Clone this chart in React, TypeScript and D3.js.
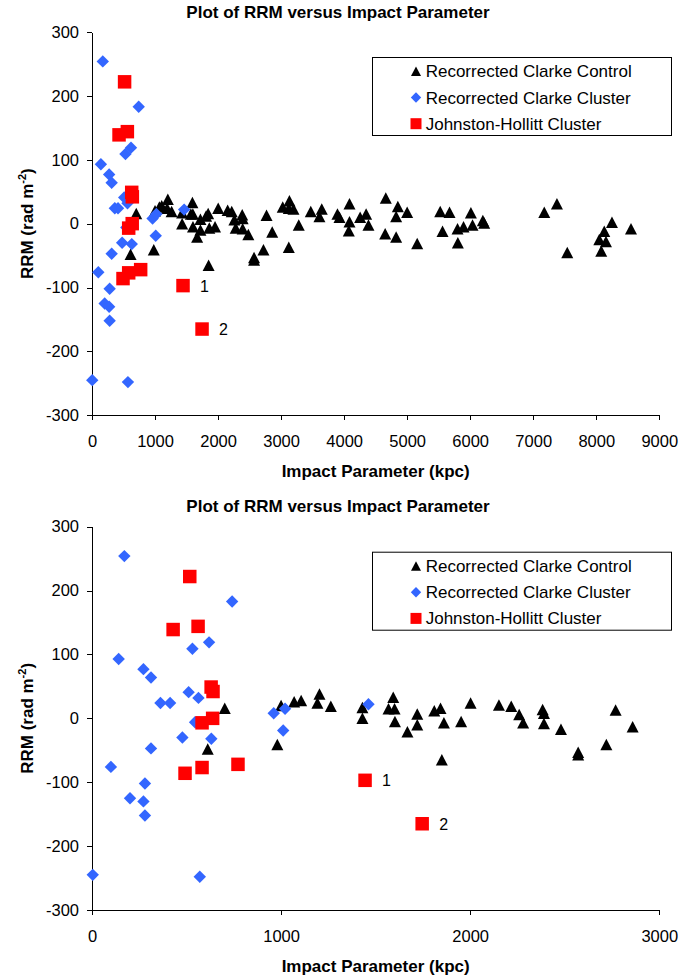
import React, { useEffect, useRef } from 'react';
import * as d3 from 'd3';

// Recorrected Clarke Control (impact parameter kpc, RRM rad m^-2)
const controlX = [702, 612, 980, 1000, 1069, 1106, 1203, 1192, 1263, 1430, 1430, 1593, 1568, 1600, 1602,
    1668, 1720, 1720, 1810, 1843, 1861, 1850, 1952, 2002, 2152, 2217, 2259, 2280, 2383, 2390, 2390, 2480,
    2571, 2571, 2720, 2769, 2859, 3026, 3132, 3122, 3196, 3280, 3122, 3471, 3645, 3608, 3894, 3926, 4085,
    4085, 4074, 4254, 4349, 4386, 4661, 4651, 4825, 4852, 4825, 5000, 5159, 5524, 5672, 5561, 5799, 5894,
    5804, 6011, 6037, 6201, 6222, 7175, 7376, 7540, 8249, 8551, 8127, 8048, 8154, 8079];
const controlY = [16, -48, -41, 20, 26, 28, 38, 24, 19, 17, 0, 33, 15, 15, -5,
    -21, 7, -10, 12, 16, -7, -65, -5, 24, 21, 19, 6, -7, 14, 8, -8, -17,
    -53, -57, -41, 13, -13, 26, 36, 24, 23, -2, -37, 19, 23, 11, 15, 10, 31,
    3, -11, 10, 15, -2, 40, -16, -21, 27, 11, 18, -31, 19, 18, -12, -8, -5,
    -30, 17, -2, 5, 1, 18, 31, -45, 2, -8, -12, -25, -28, -43];

// Recorrected Clarke Cluster
const clusterX = [171, 741, 619, 531, 141, 272, 312, 511, 563, 362, 413, 961, 1021, 545, 1011, 478, 631,
    312, 100, 280, 201, 272, 280, 4, 570, 1462];
const clusterY = [254, 183, 119, 109, 93, 77, 64, 41, 32, 24, 24, 8, 15, -6, -19, -30, -32,
    -47, -76, -102, -125, -130, -152, -245, -248, 22];

// Johnston-Hollitt Cluster
const jhX = [517, 429, 561, 630, 640, 638, 582, 492, 582, 772, 1444, 1746];
const jhY = [222, 139, 144, 49, 42, 0, -7, -86, -77, -72, -97, -165];
const jhLabels = ['', '', '', '', '', '', '', '', '', '', '1', '2'];

const seriesNames = ['Recorrected Clarke Control', 'Recorrected Clarke Cluster', 'Johnston-Hollitt Cluster'];
const yTicks = [-300, -200, -100, 0, 100, 200, 300];
const xTicksWide = [0, 1000, 2000, 3000, 4000, 5000, 6000, 7000, 8000, 9000];
const xTicksNarrow = [0, 1000, 2000, 3000];

const FONT = '"Liberation Sans", Arial, sans-serif';

// marker shapes, sized in px
const triangle = (w, h) => ({
    draw(ctx) {
        ctx.moveTo(0, -h / 2);
        ctx.lineTo(w / 2, h / 2);
        ctx.lineTo(-w / 2, h / 2);
        ctx.closePath();
    }
});
const diamond = (r) => ({
    draw(ctx) {
        ctx.moveTo(0, -r);
        ctx.lineTo(r, 0);
        ctx.lineTo(0, r);
        ctx.lineTo(-r, 0);
        ctx.closePath();
    }
});
const square = (s) => ({
    draw(ctx) {
        ctx.rect(-s / 2, -s / 2, s, s);
    }
});

function drawPanel(root, oy, xMax, xTicks) {
    const g = root.append('g').attr('transform', `translate(0, ${oy})`);

    const x = d3.scaleLinear().domain([0, xMax]).range([92, 659.3]);
    const y = d3.scaleLinear().domain([-300, 300]).range([415.3, 32]);

    g.append('text')
        .attr('x', 338)
        .attr('y', 17.5)
        .attr('text-anchor', 'middle')
        .attr('font-weight', 'bold')
        .attr('font-size', 17)
        .text('Plot of RRM versus Impact Parameter');

    // axes
    const yAxis = g.append('g')
        .attr('transform', 'translate(92,0)')
        .call(d3.axisLeft(y).tickValues(yTicks).tickSize(5).tickSizeOuter(0).tickPadding(8).tickFormat(d => String(d)));
    const xAxis = g.append('g')
        .attr('transform', `translate(0,${y(-300)})`)
        .call(d3.axisBottom(x).tickValues(xTicks).tickSize(5).tickSizeOuter(0).tickPadding(15).tickFormat(d => String(d)));

    [yAxis, xAxis].forEach(a => {
        a.attr('font-family', FONT).attr('font-size', 16.5)
        a.selectAll('path, line').attr('stroke', '#000').attr('shape-rendering', 'crispEdges')
        a.selectAll('text').attr('fill', '#000')
    });

    g.append('text')
        .attr('x', (x.range()[0] + x.range()[1]) / 2)
        .attr('y', 477)
        .attr('text-anchor', 'middle')
        .attr('font-weight', 'bold')
        .attr('font-size', 17)
        .text('Impact Parameter (kpc)');

    const yTitle = g.append('text')
        .attr('transform', `translate(33,${(y(300) + y(-300)) / 2}) rotate(-90)`)
        .attr('text-anchor', 'middle')
        .attr('font-weight', 'bold')
        .attr('font-size', 17);
    yTitle.append('tspan').text('RRM (rad m');
    yTitle.append('tspan').attr('dy', -7).attr('font-size', 11).text('-2');
    yTitle.append('tspan').attr('dy', 7).text(')');

    // points
    const inRange = (xs, ys) => xs.map((v, i) => ({ x: v, y: ys[i], i })).filter(d => d.x <= xMax);

    g.append('g')
        .selectAll('path')
        .data(inRange(controlX, controlY))
        .join('path')
            .attr('d', d3.symbol().type(triangle(12, 11.5)))
            .attr('transform', d => `translate(${x(d.x)},${y(d.y)})`)
            .attr('fill', '#000');

    g.append('g')
        .selectAll('path')
        .data(inRange(clusterX, clusterY))
        .join('path')
            .attr('d', d3.symbol().type(diamond(6.2)))
            .attr('transform', d => `translate(${x(d.x)},${y(d.y)})`)
            .attr('fill', '#3366ff');

    const jh = inRange(jhX, jhY);
    g.append('g')
        .selectAll('path')
        .data(jh)
        .join('path')
            .attr('d', d3.symbol().type(square(13.5)))
            .attr('transform', d => `translate(${x(d.x)},${y(d.y)})`)
            .attr('fill', '#ff0000');

    g.append('g')
        .selectAll('text')
        .data(jh.filter(d => jhLabels[d.i]))
        .join('text')
            .attr('x', d => x(d.x) + 17)
            .attr('y', d => y(d.y) + 6)
            .attr('font-size', 16)
            .text(d => jhLabels[d.i]);

    // legend
    const lg = g.append('g');
    lg.append('rect')
        .attr('x', 372.5).attr('y', 57.5)
        .attr('width', 299).attr('height', 78)
        .attr('fill', '#fff').attr('stroke', '#000');
    const marks = [
        { type: triangle(10, 9.5), color: '#000' },
        { type: diamond(5.2), color: '#3366ff' },
        { type: square(11), color: '#ff0000' }
    ];
    seriesNames.forEach((name, i) => {
        const cy = 71.3 + i * 26.2;
        lg.append('path')
            .attr('d', d3.symbol().type(marks[i].type)())
            .attr('transform', `translate(416,${cy})`)
            .attr('fill', marks[i].color);
        lg.append('text')
            .attr('x', 425.7)
            .attr('y', cy + 6)
            .attr('font-size', 17)
            .text(name);
    });
}

export default function App() {
    const chart = useRef(null);

    useEffect(() => {
        const svg = d3.select(chart.current);
        svg.selectAll('*').remove();
        const root = svg.append('g').attr('font-family', FONT).attr('fill', '#000');

        drawPanel(root, 0, 9000, xTicksWide);
        drawPanel(root, 494.7, 3000, xTicksNarrow);
    }, []);

    return (
        <div>
            <svg ref={chart} width={700} height={978}
                style={{ position: 'absolute', left: 0, top: 0, background: '#fff' }}></svg>
        </div>
    );
}
